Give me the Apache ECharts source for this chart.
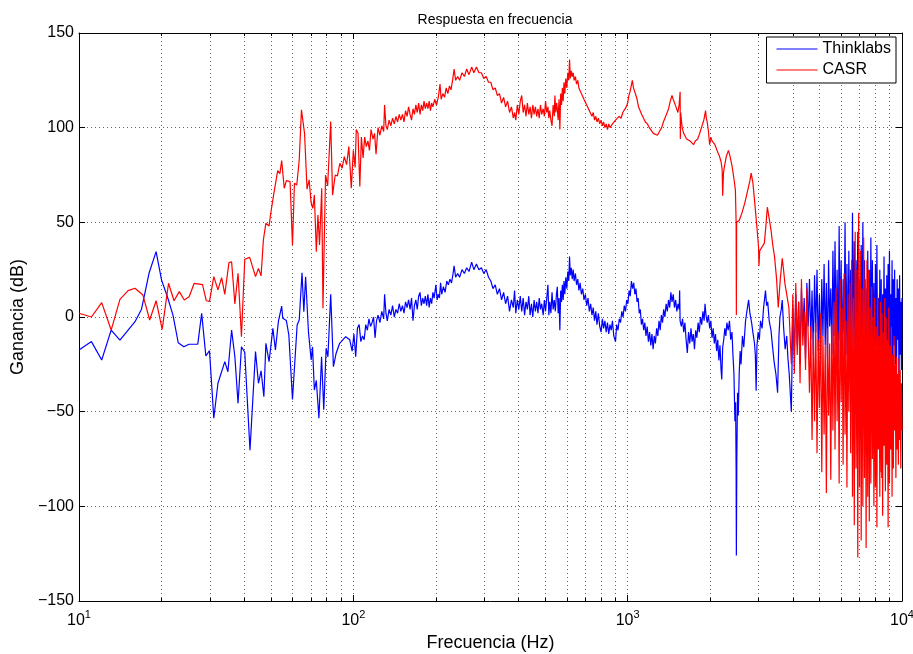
<!DOCTYPE html>
<html>
<head>
<meta charset="utf-8">
<title>Respuesta en frecuencia</title>
<script src="https://cdn.jsdelivr.net/npm/echarts@6/dist/echarts.min.js"></script>
<style>
  html, body { margin: 0; padding: 0; background: #fff; }
  #chart { width: 913px; height: 654px; }
</style>
</head>
<body>
<div id="chart"></div>
<script>
// Respuesta en frecuencia (Thinklabs vs CASR), eje x logaritmico

const yTicks = [-150, -100, -50, 0, 50, 100, 150];
const xTicks = [10, 100, 1000, 10000];

// Thinklabs: [Hz, dB] hasta ~3.9 kHz
const thinklabs = [
  [10,-17.4],[11.1,-13],[12.1,-22.7],[13.1,-6.9],[14.1,-12.2],[16,-2.5],[16.9,4.1],[18,23.1],[19.1,34.5],[20,19.5],
  [21,10.7],[22,1.1],[23,-13.6],[24.1,-15.7],[25.2,-14.4],[27.1,-14.3],[28,1.9],[29,-20.6],[29.9,-17.8],[31,-53.5],
  [32.1,-35],[34,-23.6],[34.9,-28.9],[36,-6.9],[37,-21],[38,-45.6],[39.1,-15.7],[40.2,-18.6],[40.7,-18.6],[42,-70.3],
  [44,-18.3],[45.1,-35],[46.1,-28.4],[47.2,-42.1],[48,-13.9],[49.3,-23.6],[50.9,-6],[52,-17.4],[53.3,-2.5],[54.8,5.8],
  [55.3,-0.7],[57,-1.9],[58.2,-9.5],[60,-43.5],[62.4,-4.2],[63.5,-1.6],[65,23.4],[66,2.8],[67,21.3],[68.6,-7.7],
  [70.2,-22.7],[71,-15.8],[72.1,-38.6],[73.3,-33.5],[74.9,-53.5],[76.6,-21],[78,-49],[79.6,-16.5],[80.8,-21],[82.7,12],
  [84.6,-26.2],[86.5,-19.3],[89,-14.1],[93.8,-10.4],
  [97,-12],[99,-18],[100.5,-9],[102,-21],[103.5,-6],[105,-4],[106.5,-13],[108,-10],[109.5,-12],[111,-4],
  [112.5,-7],[114,-1],[115.5,-5],[117,-3],[118.5,0],[120,-11],[121.5,-2],[123,1],[125,-3],[127,3],
  [129,-1],[130,12],[131.5,2],[133,-2],[135,4],[137,1],[139,6],[141,0],[143,4],[145,2],
  [147,7],[149,3],[151,6],[153,2],[155,8],[157,5],[159,9],[161,4],[163,10],[165,-2],
  [167,6],[169,9],[171,4],[173,11],[175,13],[177,6],[179,10],[181,7],[183,11],[185,6],
  [187,12],[189,5],[191,10],[193,7],[195,13],[197,10],[200,17],[202,9],[204,12],[206,10],
  [208,18],[210,12],[213,16],[216,13],[219,19],[222,17],[225,20],[228,18],[231,23],[233,27],
  [236,21],[240,23],[244,21],[249,25],[254,23],[259,26],[264,24],[270,29],[275,25],[281,28],
  [287,25],[293,26],[299,23],[305,25],[311,21],[317,19],[323,15],[329,17],[335,12],[341,15],
  [347,9],[353,13],[359,7],[365,11],[371,3],[377,9],[383,5],[387,14],[391,2],[396,9],
  [401,4],[406,11],[411,3],[416,10],[421,1],[426,8],[431,4],[436,11],[441,1],[446,7],
  [451,0],[456,9],[461,3],[466,8],[471,2],[476,10],[481,4],[486,7],[492,1],[497,9],
  [502,3],[507,10],[512,17],[516,1],[520,8],[525,2],[530,13],[535,4],[540,9],[545,3],
  [550,12],[554,16],[558,2],[562,10],[566,-7],[570,14],[574,8],[578,17],[582,9],[586,19],
  [590,12],[595,21],[600,15],[605,24],[610,19],[614,32],[618,22],[623,26],[628,20],[633,25],
  [638,19],[645,23],[651,17],[658,20],[664,14],[671,18],[678,12],[686,15],[693,9],[701,12],
  [709,6],[717,10],[725,3],[733,7],[741,1],[749,5],[757,-2],[765,3],[773,-4],[782,2],
  [791,-5],[800,-8],[809,-1],[817,-6],[826,-2],[835,-8],[844,-3],[853,-9],[862,-4],[871,-7],
  [880,-2],[890,-10],[903,-13],[912,-4],[922,-7],[932,-1],[942,-3],[952,3],[962,0],[972,6],
  [982,3],[992,9],[1002,7],[1012,14],[1022,11],[1032,19],[1042,15],[1052,18],[1062,12],[1072,15],
  [1082,8],[1092,10],[1102,2],[1112,4],[1122,-4],[1133,-1],[1144,-7],[1155,-3],[1166,-10],[1178,-5],
  [1190,-13],[1202,-8],[1214,-15],[1226,-9],[1238,-17],[1250,-10],[1262,-14],[1275,-6],[1288,-10],[1301,-2],
  [1314,-7],[1327,1],[1340,-3],[1353,4],[1367,0],[1381,7],[1395,3],[1409,9],[1423,5],[1437,13],
  [1451,8],[1466,12],[1481,5],[1496,9],[1511,3],[1526,7],[1541,4],[1547,14],[1553,-2],[1569,-5],
  [1585,-1],[1601,-8],[1617,-3],[1633,-12],[1650,-19],[1667,-8],[1684,-14],[1701,-6],[1718,-13],[1735,-9],
  [1752,-17],[1770,-7],[1788,-11],[1806,-3],[1824,-8],[1843,0],[1862,-4],[1881,3],[1900,-2],[1914,7],
  [1930,1],[1950,-3],[1970,1],[1990,-6],[2010,-2],[2030,-11],[2050,-6],[2070,-14],[2090,-9],[2110,-18],
  [2130,-12],[2150,-23],[2170,-15],[2190,-28],[2203,-33],[2220,-16],[2240,-12],[2260,-6],[2280,-10],[2300,-3],
  [2325,-7],[2350,-2],[2375,-12],[2400,-8],[2420,-20],[2440,-30],[2460,-55],[2475,-45],[2485,-80],[2490,-126],
  [2500,-75],[2515,-40],[2530,-52],[2550,-30],[2570,-18],[2590,-25],[2620,-10],[2650,-16],[2690,-2],[2720,3],
  [2760,9],[2790,2],[2830,-3],[2860,-8],[2900,-14],[2920,-20],[2940,-39],[2960,-15],[2990,-8],[3020,-12],
  [3050,-2],[3090,-6],[3130,5],[3180,14],[3210,6],[3240,8],[3280,-2],[3330,-7],[3370,-15],[3420,-24],
  [3470,-30],[3520,-40],[3560,-10],[3590,0],[3630,4],[3660,9],[3700,-5],[3750,-17],[3800,-10],[3840,-22],
  [3880,-30]
];

// CASR: [Hz, dB] hasta ~3.9 kHz
const casr = [
  [10,2],[11.1,0],[12.1,7.6],[13.1,-6.9],[14.1,9.3],[15.1,13.9],[16,15.2],[17.1,11.6],[18.1,-1.6],[19.1,8.6],
  [20.1,-6.5],[21.2,17.8],[22.2,8.6],[23.2,13.4],[24.2,9],[25.2,10.7],[26.3,17.8],[28.2,17.1],[29.1,8.6],[29.9,8.3],
  [31,21.3],[32.1,14.3],[33.1,20.8],[34,12],[35.2,28.7],[36,29.1],[37,6.9],[38,23.1],[39.1,-10.4],[40.2,30.5],
  [41.9,31.5],[44,21.3],[45.1,25.7],[46.1,21.7],[47,40.7],[48,49.5],[49.3,48.1],[50,54.8],[51.2,64.4],[52,65.3],
  [53,77.3],[54,75.7],[54.8,82.6],[56,68],[57,72],[58.8,71.5],[60,38],[61,70.6],[62.2,69.7],[63.5,82.9],
  [64.7,109.4],[66.4,97],[67.8,67.5],[69,72.4],[70.2,60.1],[71.2,57.4],[72.1,64.4],[73.3,34.5],[74.3,53.9],[75.3,38],
  [76.7,68],[77.5,4.6],[79.2,75],[80.6,69.2],[82.7,103.2],[84,64.4],[85.9,75],[87.5,74.5],[89.3,81.2],[91,78.6],
  [92.7,84.7],[94.5,80.5],
  [96.3,90],[98.3,68],[100,88],[101.5,79],[102.5,99],[104,97],[105.6,69],[107,95],[108.5,84],[110,95],
  [111.5,90],[113,93],[114.5,88],[116,99],[118,94],[119.5,97],[121,86],[123,100],[125,96],[127,101],
  [129,98],[130,112],[131.5,101],[133,99],[135,104],[137,101],[139,105],[141,102],[143,106],[145,103],
  [147,107],[149,104],[151,107],[153,103],[155,109],[157,106],[159,111],[161,107],[163,104],[165,110],
  [167,107],[169,112],[171,108],[173,113],[175,107],[177,112],[179,109],[181,114],[183,110],[185,113],
  [187,110],[189,114],[191,109],[193,113],[195,111],[198,115],[201,112],[204,116],[207,123],[209,115],
  [212,118],[215,116],[218,121],[221,118],[224,122],[227,120],[230,125],[233,131],[236,125],[240,127],
  [244,125],[249,129],[254,127],[259,131],[264,128],[270,132],[275,129],[281,132],[287,129],[293,129],
  [299,126],[305,127],[311,124],[317,124],[323,120],[329,121],[335,117],[341,118],[347,113],[353,116],
  [359,111],[365,114],[371,108],[377,111],[383,105],[387,108],[391,104],[396,112],[401,107],[406,114],
  [411,117],[416,108],[421,112],[426,106],[431,113],[436,107],[441,111],[446,105],[451,112],[456,107],
  [461,111],[466,106],[471,110],[476,105],[481,112],[486,107],[492,110],[497,106],[502,114],[507,108],
  [512,111],[516,105],[520,109],[525,104],[530,101],[535,112],[540,106],[543,117],[547,108],[551,113],
  [554,110],[558,104],[562,115],[566,99],[570,118],[574,112],[578,121],[582,114],[586,124],[590,118],
  [595,126],[600,121],[605,129],[610,125],[614,136],[618,126],[623,130],[628,127],[633,129],[638,125],
  [645,127],[651,123],[658,125],[664,121],[671,122],[678,118],[686,119],[693,115],[701,116],[709,112],
  [717,113],[725,109],[733,110],[741,106],[749,108],[757,104],[765,106],[773,103],[782,105],[791,102],
  [800,104],[809,101],[817,103],[826,100],[835,102],[844,99],[853,102],[862,100],[871,101],[880,102],
  [890,101],[903,104],[915,103],[930,106],[946,105],[960,108],[975,107],[988,111],[1000,113],[1010,117],
  [1020,119],[1030,122],[1040,125],[1050,121],[1061,121],[1072,117],[1082,115],[1095,111],[1110,110],[1125,107],
  [1140,106],[1160,103],[1180,102],[1200,100],[1220,99],[1240,97],[1260,97],[1284,96],[1305,98],[1330,100],
  [1350,103],[1370,104],[1393,108],[1410,110],[1430,114],[1451,117],[1465,115],[1480,115],[1500,111],[1524,108],
  [1540,112],[1553,119],[1556,94],[1560,108],[1580,100],[1600,97],[1616,96],[1640,94],[1665,95],[1688,93],
  [1710,92],[1738,91],[1765,93],[1800,94],[1830,97],[1867,101],[1895,104],[1923,109],[1935,105],[1950,103],
  [1970,98],[1990,91],[2010,95],[2030,93],[2050,94],[2080,91],[2100,90],[2130,87],[2160,85],[2190,82],
  [2210,78],[2220,64],[2235,76],[2250,79],[2290,85],[2330,88],[2360,85],[2400,80],[2440,73],[2470,67],
  [2485,50],[2490,1],[2495,50],[2520,49],[2550,51],[2610,55],[2670,60],[2730,66],[2790,72],[2820,76],
  [2860,71],[2890,64],[2920,57],[2960,47],[3000,37],[3010,27],[3030,35],[3080,36],[3150,39],[3190,48],
  [3230,58],[3280,52],[3330,46],[3380,38],[3430,32],[3490,20],[3540,5],[3600,20],[3660,31],[3700,25],
  [3740,18],[3800,12],[3870,5]
];

// tramo ruidoso de alta frecuencia (3.9 - 10 kHz), frecuencias comunes
const freqHigh = [
  3900,3950,4000,4050,4100,4150,4200,4250,4300,4350,4400,4450,4500,4550,4600,4650,4700,4750,4800,4850,
  4900,4950,5000,5050,5100,5150,5200,5250,5300,5350,5400,5450,5500,5550,5600,5650,5700,5750,5800,5850,
  5900,5950,6000,6050,6100,6150,6200,6250,6300,6350,6400,6450,6500,6550,6600,6650,6700,6750,6800,6850,
  6900,6950,7000,7050,7100,7150,7200,7250,7300,7350,7400,7450,7500,7550,7600,7650,7700,7750,7800,7850,
  7900,7950,8000,8050,8100,8150,8200,8250,8300,8350,8400,8450,8500,8550,8600,8650,8700,8750,8800,8850,
  8900,8950,9000,9050,9100,9150,9200,9250,9300,9350,9400,9450,9500,9550,9600,9650,9700,9750,9800,9850,
  9900,9950,10000
];
const thinkHigh = [
  -30,-50,5,-20,12,-15,8,-25,15,-10,10,-22,18,-5,
  20,-12,14,-20,22,-8,25,-18,12,-25,20,-10,28,-15,18,-22,30,-5,15,-20,35,-10,
  40,-15,25,-25,48,-12,30,-28,20,-8,50,-20,28,-30,35,-10,25,
  -18,55,-15,40,-25,30,-10,45,-30,20,-35,38,-12,50,-20,30,-28,15,-40,35,-15,25,-30,42,
  -20,30,-35,18,-45,28,-15,38,-25,10,-40,25,-30,20,-85,12,-20,32,-38,15,-25,22,-45,28,-18,35,-30,12,-22,30,-40,20,-15,
  25,-25,10,-30,20,-12,15,-35,22,-20,8,-28,10
];
const casrHigh = [
  5,-25,12,-30,18,-20,8,-35,20,-15,3,-28,15,-10,
  -40,-5,-65,-8,-55,-3,-72,-12,-48,2,-82,-10,-62,-15,-93,-6,-52,-14,-86,-4,-60,8,
  -70,15,-55,-8,-88,20,-45,5,-78,23,-62,-2,-90,12,-50,18,-72,
  30,-95,10,-110,45,-80,25,-127,55,-90,35,-118,15,-100,42,-85,20,-122,30,-95,25,-108,5,-88,
  16,-75,0,-100,10,-90,-5,-111,12,-70,-10,-95,8,-82,2,-105,-8,-68,10,-92,0,-78,-12,-111,5,-88,-15,-70,-5,-95,-20,-80,-10,
  -60,-25,-85,-21,-70,-30,-78,-22,-65,-28,-80,-35,-60
];

const font = 'Liberation Sans, Arial, Helvetica, sans-serif';
const gridColor = '#666';

const thinkData = thinklabs.concat(freqHigh.map((f, i) => [f, thinkHigh[i]]));
const casrData = casr.concat(freqHigh.map((f, i) => [f, casrHigh[i]]));

const chart = echarts.init(document.getElementById('chart'));

function xAxisCfg(pos, labels) {
  return {
    type: 'log',
    logBase: 10,
    min: xTicks[0],
    max: xTicks[xTicks.length - 1],
    position: pos,
    axisLine: { show: true, onZero: false, lineStyle: { color: '#000', width: 1 } },
    axisTick: { show: true, inside: true, length: 6, lineStyle: { color: '#000' } },
    minorTick: { show: true, splitNumber: 9, length: 3, lineStyle: { color: '#000' } },
    splitLine: { show: labels, lineStyle: { color: gridColor, type: [1, 3] } },
    minorSplitLine: { show: labels, lineStyle: { color: gridColor, type: [1, 3] } },
    axisLabel: labels ? {
      show: true,
      margin: 8,
      showMinLabel: true,
      showMaxLabel: true,
      formatter: v => '{b|10}{s|' + Math.round(Math.log10(v)) + '}',
      rich: {
        b: { fontSize: 16, fontFamily: font, color: '#000', verticalAlign: 'bottom' },
        s: { fontSize: 11, fontFamily: font, color: '#000', verticalAlign: 'bottom', padding: [0, 0, 9, 0] }
      }
    } : { show: false },
    name: labels ? 'Frecuencia (Hz)' : '',
    nameLocation: 'middle',
    nameGap: 26,
    nameTextStyle: { fontSize: 18, fontFamily: font, color: '#000' }
  };
}

function yAxisCfg(pos, labels) {
  return {
    type: 'value',
    min: yTicks[0],
    max: yTicks[yTicks.length - 1],
    interval: 50,
    position: pos,
    axisLine: { show: true, onZero: false, lineStyle: { color: '#000', width: 1 } },
    axisTick: { show: true, inside: true, length: 6, lineStyle: { color: '#000' } },
    splitLine: { show: labels, lineStyle: { color: gridColor, type: [1, 3] } },
    axisLabel: labels ? {
      show: true,
      margin: 5,
      fontSize: 16,
      fontFamily: font,
      color: '#000',
      formatter: v => (v < 0 ? '\u2212' + Math.abs(v) : String(v))
    } : { show: false },
    name: labels ? 'Ganancia (dB)' : '',
    nameLocation: 'middle',
    nameGap: 48,
    nameRotate: 90,
    nameTextStyle: { fontSize: 18, fontFamily: font, color: '#000' }
  };
}

const option = {
  animation: false,
  backgroundColor: '#fff',
  title: {
    text: 'Respuesta en frecuencia',
    left: 490,
    top: 8,
    textAlign: 'center',
    textStyle: { fontSize: 14, fontWeight: 'normal', fontFamily: font, color: '#000' }
  },
  legend: {
    data: ['Thinklabs', 'CASR'],
    orient: 'vertical',
    right: 17,
    top: 37,
    padding: [3, 5, 4, 10],
    itemGap: 3,
    icon: 'rect',
    itemWidth: 41,
    itemHeight: 1,
    backgroundColor: '#fff',
    borderColor: '#000',
    borderWidth: 1,
    borderRadius: 0,
    textStyle: { fontSize: 16, fontFamily: font, color: '#000', lineHeight: 18 }
  },
  grid: { left: 79, right: 11, top: 33, bottom: 53, containLabel: false, outerBoundsMode: 'none' },
  xAxis: [xAxisCfg('bottom', true), xAxisCfg('top', false)],
  yAxis: [yAxisCfg('left', true), yAxisCfg('right', false)],
  series: [
    {
      name: 'Thinklabs',
      type: 'line',
      data: thinkData,
      showSymbol: false,
      symbol: 'none',
      color: '#0000ff',
      lineStyle: { color: '#0000ff', width: 1.2 },
      z: 2
    },
    {
      name: 'CASR',
      type: 'line',
      data: casrData,
      showSymbol: false,
      symbol: 'none',
      color: '#ff0000',
      lineStyle: { color: '#ff0000', width: 1.2 },
      z: 3
    }
  ]
};

option && chart.setOption(option);
</script>
</body>
</html>
